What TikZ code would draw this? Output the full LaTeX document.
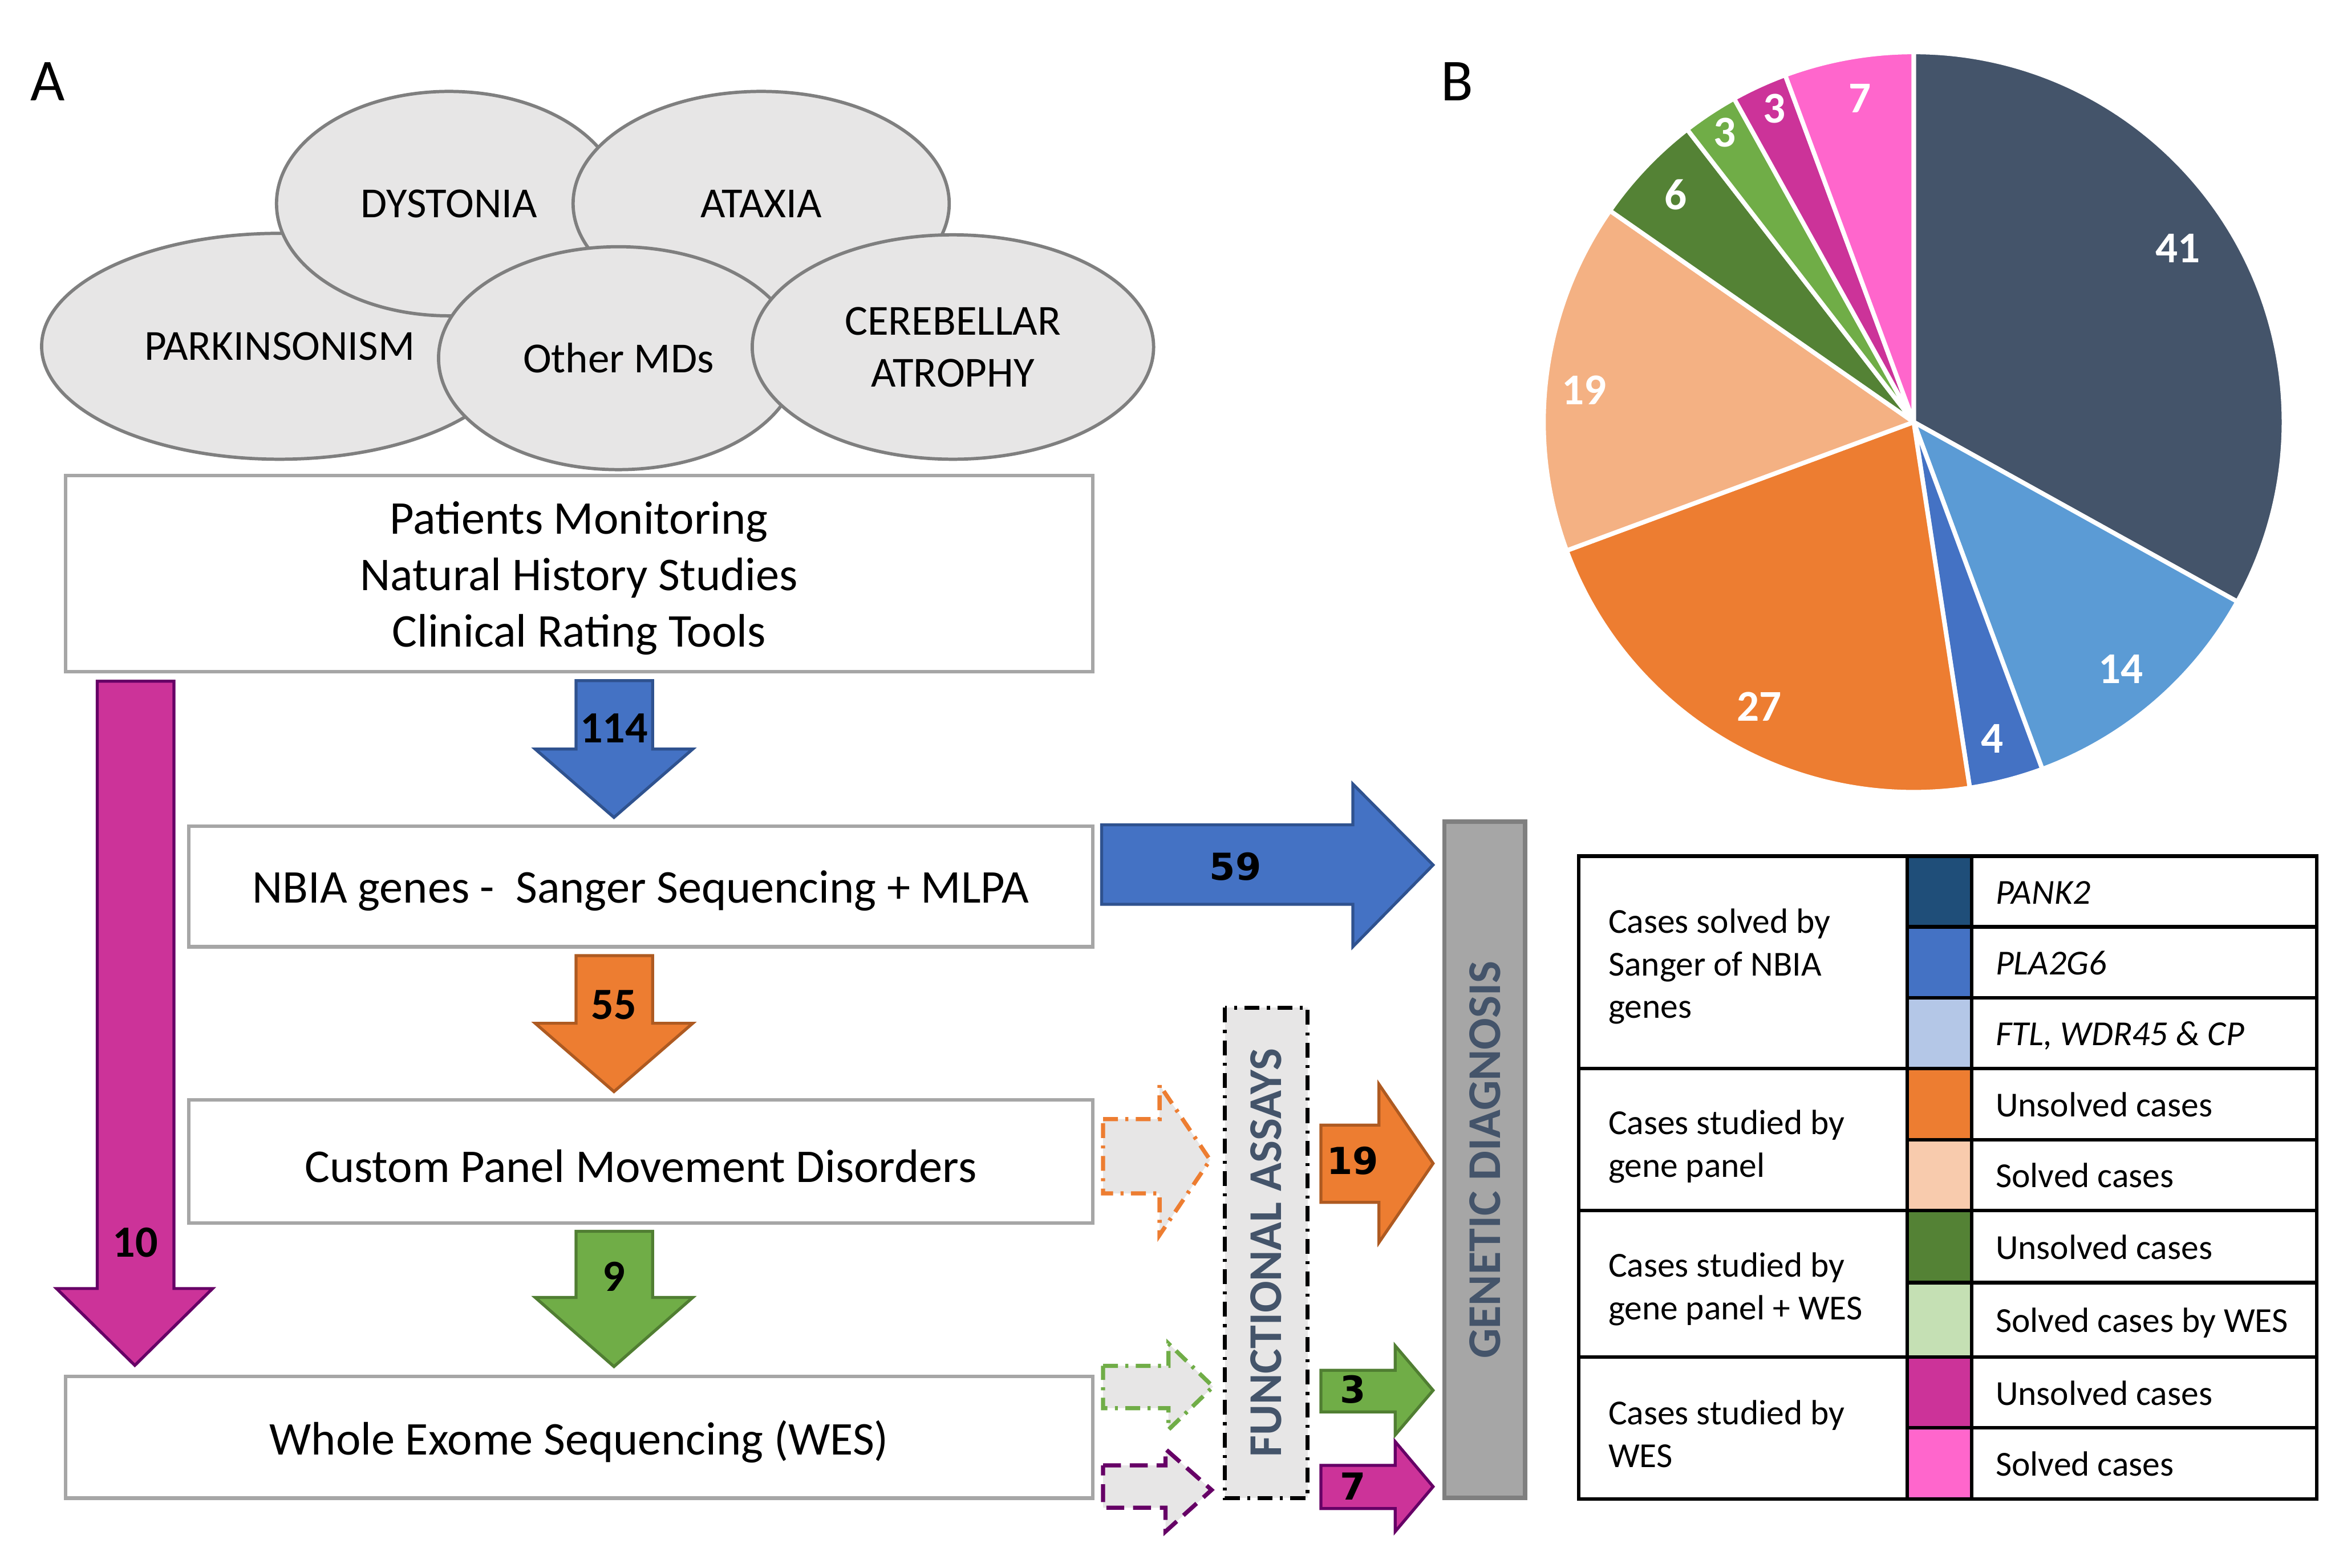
\documentclass[tikz,border=0pt]{standalone}
\usepackage{fontspec}
\setmainfont{Carlito}
\newfontfamily\numfont{DejaVu Sans}
\usepackage{tikz}
\usepackage{xcolor}
\definecolor{mdFill}{HTML}{E7E6E6}
\definecolor{mdEdge}{HTML}{7F7F7F}
\definecolor{boxEdge}{HTML}{A6A6A6}
\definecolor{slate}{HTML}{44546A}
\definecolor{nbiaBlue}{HTML}{4472C4}
\definecolor{nbiaEdge}{HTML}{2F528F}
\definecolor{panelOrange}{HTML}{ED7D31}
\definecolor{panelEdge}{HTML}{AE5A21}
\definecolor{wesGreen}{HTML}{70AD47}
\definecolor{wesEdge}{HTML}{507E32}
\definecolor{wesMagenta}{HTML}{CC3399}
\definecolor{wesPurple}{HTML}{660066}
\definecolor{skyBlue}{HTML}{5B9BD5}
\definecolor{peach}{HTML}{F4B183}
\definecolor{darkGreen}{HTML}{548235}
\definecolor{pink}{HTML}{FF66CC}
\definecolor{pankNavy}{HTML}{1F4E79}
\definecolor{paleBlue}{HTML}{B4C7E7}
\definecolor{palePeach}{HTML}{F8CBAD}
\definecolor{paleGreen}{HTML}{C5E0B4}
\definecolor{diagGray}{HTML}{A6A6A6}

\begin{document}
\begin{tikzpicture}[x=0.5pt, y=-0.5pt,
  mdStyle/.style={fill=mdFill, draw=mdEdge, line width=1.1pt},
  mdText/.style={font=\fontsize{14.4}{17.5}\selectfont, align=center},
  boxStyle/.style={draw=boxEdge, line width=1.2pt},
  boxText/.style={font=\fontsize{15.8}{19}\selectfont, align=center, yshift=-1.5pt},
  blockStyle/.style={line width=1pt, line join=miter},
  numStyle/.style={font=\fontsize{15}{18}\selectfont\bfseries, inner sep=0},
  sideNum/.style={font=\numfont\bfseries\fontsize{12.5}{15}\selectfont, inner sep=0},
  ghostArrow/.style={fill=mdFill, line width=1.4pt},
  dashDot/.style={dash pattern=on 5pt off 2.5pt on 1pt off 2.5pt},
  sliceStyle/.style={draw=white, line width=1.5pt, line join=round},
  sliceNum/.style={font=\fontsize{14.8}{18}\selectfont\bfseries, text=white, inner sep=0},
  legLine/.style={draw=black, line width=1.2pt},
  legGroup/.style={font=\fontsize{11.8}{14.3}\selectfont, align=left, anchor=west, inner sep=0, yshift=-1.2pt},
  legText/.style={font=\fontsize{11.8}{14.3}\selectfont, anchor=west, inner sep=0, text height=1.5ex, text depth=.25ex, yshift=-1.2pt},
  vertText/.style={rotate=90, font=\fontsize{15.8}{19}\selectfont\bfseries, text=slate, inner sep=0}
]
\useasboundingbox (0,0) rectangle (1568,1055);

% panel labels
\node[font=\fontsize{20}{24}\selectfont, inner sep=0] (labelA) at (32,55) {A};
\node[font=\fontsize{20}{24}\selectfont, inner sep=0] (labelB) at (980,55) {B};

% movement disorders
\filldraw[mdStyle] (188,233) ellipse [x radius=160, y radius=76] node[mdText] (parkinsonism) {PARKINSONISM};
\filldraw[mdStyle] (302,137) ellipse [x radius=116, y radius=75.5] node[mdText] (dystonia) {DYSTONIA};
\filldraw[mdStyle] (512,137) ellipse [x radius=126.5, y radius=75.5] node[mdText] (ataxia) {ATAXIA};
\filldraw[mdStyle] (416,241) ellipse [x radius=121, y radius=75] node[mdText] (otherMD) {Other MDs};
\filldraw[mdStyle] (641,233.5) ellipse [x radius=135, y radius=75.5] node[mdText] (cerebellar) {CEREBELLAR\\ATROPHY};

% workflow boxes
\draw[boxStyle] (44,320) rectangle (735,452) node[midway, boxText] (monitoring) {Patients Monitoring\\Natural History Studies\\Clinical Rating Tools};
\draw[boxStyle] (127,556) rectangle (735,637) node[midway, boxText] (sanger) {NBIA genes -~ Sanger Sequencing + MLPA};
\draw[boxStyle] (127,740) rectangle (735,823) node[midway, boxText] (panel) {Custom Panel Movement Disorders};
\draw[boxStyle] (44,926) rectangle (735,1008) node[midway, boxText] (wes) {Whole Exome Sequencing (WES)};

% down arrows
\filldraw[blockStyle, fill=nbiaBlue, draw=nbiaEdge] (387.5,458) -- (439,458) -- (439,504) -- (466,504) -- (413,550) -- (360,504) -- (387.5,504) -- cycle;
\node[numStyle] (n114) at (413,490) {114};
\filldraw[blockStyle, fill=panelOrange, draw=panelEdge] (387.5,643) -- (439,643) -- (439,688.5) -- (466,688.5) -- (413,734.5) -- (360,688.5) -- (387.5,688.5) -- cycle;
\node[numStyle] (n55) at (413,676) {55};
\filldraw[blockStyle, fill=wesGreen, draw=wesEdge] (387.5,828.5) -- (439,828.5) -- (439,873) -- (466,873) -- (413,919.5) -- (360,873) -- (387.5,873) -- cycle;
\node[numStyle] (n9) at (413,859) {9};
\filldraw[blockStyle, fill=wesMagenta, draw=wesPurple] (65.4,458.4) -- (117,458.4) -- (117,867) -- (143,867) -- (90.7,918.7) -- (38,867) -- (65.4,867) -- cycle;
\node[numStyle] (n10) at (91,836) {10};

% functional assays
\filldraw[ghostArrow, draw=panelOrange, dashDot] (742,753) -- (780,753) -- (780,730) -- (814,780.5) -- (780,831) -- (780,803) -- (742,803) -- cycle;
\filldraw[ghostArrow, draw=wesGreen, dashDot] (742,919) -- (786,919) -- (786,904) -- (816,933) -- (786,962) -- (786,947.5) -- (742,947.5) -- cycle;
\filldraw[ghostArrow, draw=wesPurple, dash pattern=on 6pt off 3pt] (742,986) -- (784,986) -- (784,975) -- (815,1002.5) -- (784,1030.5) -- (784,1014.5) -- (742,1014.5) -- cycle;
\draw[fill=mdFill, line width=1.4pt, dashDot] (824,678) rectangle (879.6,1008) node[midway, vertText] (assays) {FUNCTIONAL ASSAYS};

% genetic diagnosis
\filldraw[blockStyle, fill=nbiaBlue, draw=nbiaEdge] (741,555) -- (910,555) -- (910,527.5) -- (964,582) -- (910,637) -- (910,608.5) -- (741,608.5) -- cycle;
\node[sideNum] (n59) at (831,583) {59};
\filldraw[blockStyle, fill=panelOrange, draw=panelEdge] (888.5,757) -- (927.6,757) -- (927.6,729.6) -- (964,782.8) -- (927.6,836) -- (927.6,809) -- (888.5,809) -- cycle;
\node[sideNum] (n19) at (910,781) {19};
\filldraw[blockStyle, fill=wesGreen, draw=wesEdge] (888.5,922) -- (938.5,922) -- (938.5,905.5) -- (964,935.5) -- (938.5,965.5) -- (938.5,950) -- (888.5,950) -- cycle;
\node[sideNum] (n3) at (910,935) {3};
\filldraw[blockStyle, fill=wesMagenta, draw=wesPurple] (888.5,986) -- (938.5,986) -- (938.5,970) -- (964,1000.3) -- (938.5,1030.5) -- (938.5,1015) -- (888.5,1015) -- cycle;
\node[sideNum] (n7) at (910,1000) {7};
\draw[fill=diagGray, draw=mdEdge, line width=1.5pt] (971.6,552.8) rectangle (1026,1008) node[midway, vertText] (diagnosis) {GENETIC DIAGNOSIS};

% pie chart
\coordinate (pie) at (1287.3,284);
\filldraw[sliceStyle, fill=slate] (pie) -- ++(-90:249) arc[start angle=-90, end angle=29.03, radius=249] -- cycle;
\filldraw[sliceStyle, fill=skyBlue] (pie) -- ++(29.03:249) arc[start angle=29.03, end angle=69.68, radius=249] -- cycle;
\filldraw[sliceStyle, fill=nbiaBlue] (pie) -- ++(69.68:249) arc[start angle=69.68, end angle=81.29, radius=249] -- cycle;
\filldraw[sliceStyle, fill=panelOrange] (pie) -- ++(81.29:249) arc[start angle=81.29, end angle=159.68, radius=249] -- cycle;
\filldraw[sliceStyle, fill=peach] (pie) -- ++(159.68:249) arc[start angle=159.68, end angle=214.84, radius=249] -- cycle;
\filldraw[sliceStyle, fill=darkGreen] (pie) -- ++(214.84:249) arc[start angle=214.84, end angle=232.26, radius=249] -- cycle;
\filldraw[sliceStyle, fill=wesGreen] (pie) -- ++(232.26:249) arc[start angle=232.26, end angle=240.97, radius=249] -- cycle;
\filldraw[sliceStyle, fill=wesMagenta] (pie) -- ++(240.97:249) arc[start angle=240.97, end angle=249.68, radius=249] -- cycle;
\filldraw[sliceStyle, fill=pink] (pie) -- ++(249.68:249) arc[start angle=249.68, end angle=270, radius=249] -- cycle;
\node[sliceNum] (s41) at (1465,167) {41};
\node[sliceNum] (s14) at (1426.5,450) {14};
\node[sliceNum] (s4) at (1340,497) {4};
\node[sliceNum] (s27) at (1183.5,475.5) {27};
\node[sliceNum] (s19) at (1065.6,262.6) {19};
\node[sliceNum] (s6) at (1127,131) {6};
\node[sliceNum] (s3a) at (1160,89) {3};
\node[sliceNum] (s3b) at (1193.7,73) {3};
\node[sliceNum] (s7) at (1251,66) {7};

% legend
\fill[pankNavy]    (1282.8,576)   rectangle (1326.3,623.6);
\fill[nbiaBlue]    (1282.8,623.6) rectangle (1326.3,671.3);
\fill[paleBlue]    (1282.8,671.3) rectangle (1326.3,719);
\fill[panelOrange] (1282.8,719)   rectangle (1326.3,766.8);
\fill[palePeach]   (1282.8,766.8) rectangle (1326.3,814.5);
\fill[darkGreen]   (1282.8,814.5) rectangle (1326.3,863);
\fill[paleGreen]   (1282.8,863)   rectangle (1326.3,913);
\fill[wesMagenta]  (1282.8,913)   rectangle (1326.3,960.8);
\fill[pink]        (1282.8,960.8) rectangle (1326.3,1008.5);
\draw[legLine] (1062,576) rectangle (1558.5,1008.5);
\draw[legLine] (1282.8,576) -- (1282.8,1008.5) (1326.3,576) -- (1326.3,1008.5);
\draw[legLine] (1062,719) -- (1558.5,719) (1062,814.5) -- (1558.5,814.5) (1062,913) -- (1558.5,913);
\draw[legLine] (1282.8,623.6) -- (1558.5,623.6) (1282.8,671.3) -- (1558.5,671.3) (1282.8,766.8) -- (1558.5,766.8)
  (1282.8,863) -- (1558.5,863) (1282.8,960.8) -- (1558.5,960.8);
\node[legGroup] (gSanger) at (1081.5,648) {Cases solved by\\Sanger of NBIA\\genes};
\node[legGroup] (gPanel) at (1081.5,769) {Cases studied by\\gene panel};
\node[legGroup] (gPanelWes) at (1081.5,865) {Cases studied by\\gene panel + WES};
\node[legGroup] (gWes) at (1081.5,962.5) {Cases studied by\\WES};
\node[legText] (lPank) at (1342,600) {\textit{PANK2}};
\node[legText] (lPla) at (1342,647.5) {\textit{PLA2G6}};
\node[legText] (lFtl) at (1342,695) {\textit{FTL, WDR45 \& CP}};
\node[legText] (lUnsolvedP) at (1342,743) {Unsolved cases};
\node[legText] (lSolvedP) at (1342,790.6) {Solved cases};
\node[legText] (lUnsolvedPW) at (1342,838.8) {Unsolved cases};
\node[legText] (lSolvedPW) at (1342,888) {Solved cases by WES};
\node[legText] (lUnsolvedW) at (1342,937) {Unsolved cases};
\node[legText] (lSolvedW) at (1342,984.6) {Solved cases};
\end{tikzpicture}
\end{document}
